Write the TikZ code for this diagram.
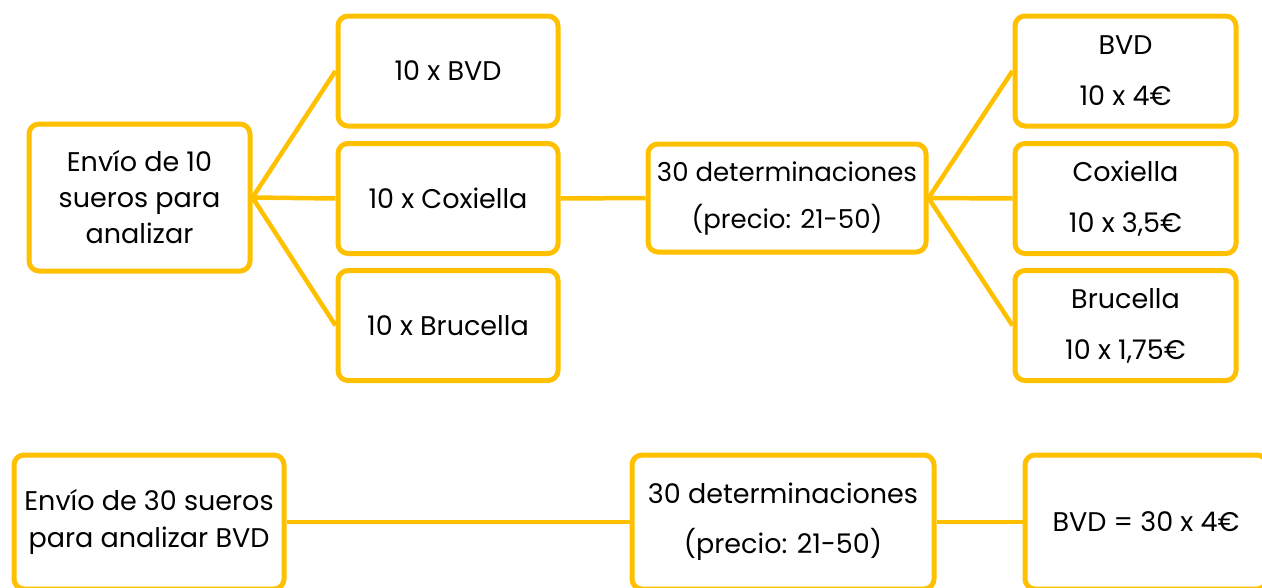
\documentclass[tikz,border=0pt]{standalone}
\usepackage{fontspec}
\setmainfont{Poppins}
\definecolor{ybox}{HTML}{FFC000}
\tikzset{
  box/.style={draw=ybox, line width=5pt, rounded corners=10pt, fill=white, align=center,
    inner sep=0pt, font=\fontsize{27}{36}\selectfont},
  link/.style={draw=ybox, line width=4.5pt},
}
\begin{document}
\begin{tikzpicture}[x=1pt,y=-1pt]
\useasboundingbox (0,0) rectangle (1262,587);
\clip (0,0) rectangle (1262,587);
% top row
\node[box, minimum width=221pt, minimum height=147pt] (a) at (139.5,197.5) {Envío de 10\\sueros para\\analizar};
\node[box, minimum width=220pt, minimum height=110pt] (m1) at (448,71) {10 x BVD};
\node[box, minimum width=220pt, minimum height=110pt] (m2) at (448,198.5) {10 x Coxiella};
\node[box, minimum width=220pt, minimum height=110pt] (m3) at (448,325.5) {10 x Brucella};
\node[box, minimum width=278pt, minimum height=108pt, font=\fontsize{26}{47}\selectfont] (d) at (787,198) {30 determinaciones\\(precio: 21-50)};
\node[box, minimum width=221pt, minimum height=110pt, font=\fontsize{27}{51}\selectfont] (r1) at (1125.5,71) {BVD\\10 x 4€};
\node[box, minimum width=221pt, minimum height=110pt, font=\fontsize{27}{51}\selectfont] (r2) at (1125.5,198.5) {Coxiella\\10 x 3,5€};
\node[box, minimum width=221pt, minimum height=110pt, font=\fontsize{27}{51}\selectfont] (r3) at (1125.5,325.5) {Brucella\\10 x 1,75€};
% bottom row
\node[box, minimum width=270pt, minimum height=134pt, font=\fontsize{27}{37}\selectfont] (b1) at (149,522) {Envío de 30 sueros\\para analizar BVD};
\node[box, minimum width=302pt, minimum height=134pt, font=\fontsize{27}{50}\selectfont] (b2) at (783,522) {30 determinaciones\\(precio: 21-50)};
\node[box, minimum width=242pt, minimum height=134pt] (b3) at (1146,522) {BVD = 30 x 4€};
% connectors
\path[link] (a.east) -- (m1.west);
\path[link] (a.east) -- (m2.west);
\path[link] (a.east) -- (m3.west);
\path[link] (m2.east) -- (d.west);
\path[link] (d.east) -- (r1.west);
\path[link] (d.east) -- (r2.west);
\path[link] (d.east) -- (r3.west);
\path[link] (b1.east) -- (b2.west);
\path[link] (b2.east) -- (b3.west);
\end{tikzpicture}
\end{document}
